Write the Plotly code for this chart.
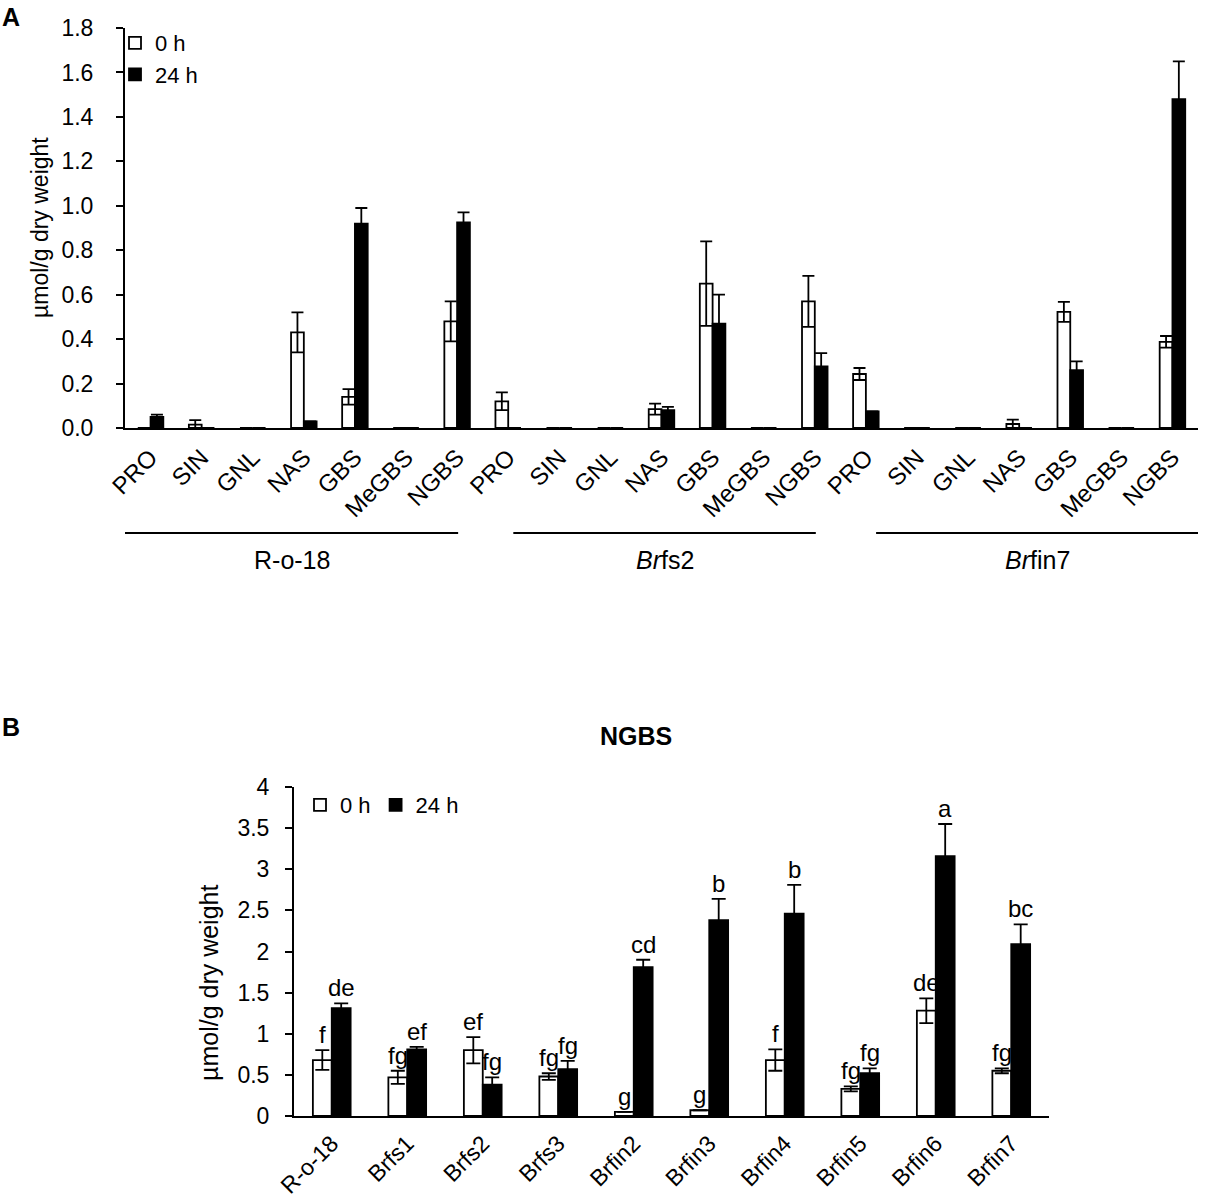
import plotly.graph_objects as go

# ---- panel A data ----
compounds = ["PRO", "SIN", "GNL", "NAS", "GBS", "MeGBS", "NGBS"]
lines_a = ["R-o-18", "<i>Br</i>fs2", "<i>Br</i>fin7"]

a_0h = [0.0, 0.015, 0.0, 0.43, 0.14, 0.0, 0.48,
        0.12, 0.0, 0.0, 0.085, 0.65, 0.0, 0.57,
        0.243, 0.0, 0.0, 0.018, 0.523, 0.0, 0.388]
a_0h_err = [0.0, 0.02, 0.0, 0.09, 0.035, 0.0, 0.09,
            0.04, 0.0, 0.0, 0.025, 0.19, 0.0, 0.115,
            0.027, 0.0, 0.0, 0.02, 0.045, 0.0, 0.026]
a_24h = [0.05, 0.0, 0.0, 0.03, 0.92, 0.0, 0.925,
         0.0, 0.0, 0.0, 0.08, 0.47, 0.0, 0.277,
         0.075, 0.0, 0.0, 0.0, 0.26, 0.0, 1.48]
a_24h_err = [0.01, 0.0, 0.0, 0.0, 0.07, 0.0, 0.045,
             0.0, 0.0, 0.0, 0.015, 0.13, 0.0, 0.06,
             0.0, 0.0, 0.0, 0.0, 0.04, 0.0, 0.17]

# ---- panel B data (NGBS) ----
lines_b = ["R-o-18", "Brfs1", "Brfs2", "Brfs3", "Brfin2", "Brfin3",
           "Brfin4", "Brfin5", "Brfin6", "Brfin7"]
b_0h = [0.68, 0.47, 0.80, 0.48, 0.05, 0.07, 0.68, 0.33, 1.28, 0.55]
b_0h_err = [0.12, 0.08, 0.16, 0.04, 0.0, 0.0, 0.13, 0.03, 0.15, 0.03]
b_24h = [1.31, 0.81, 0.38, 0.57, 1.81, 2.38, 2.46, 0.52, 3.16, 2.09]
b_24h_err = [0.06, 0.03, 0.09, 0.10, 0.09, 0.26, 0.35, 0.06, 0.39, 0.24]
b_0h_letters = ["f", "fg", "ef", "fg", "g", "g", "f", "fg", "de", "fg"]
b_24h_letters = ["de", "ef", "fg", "fg", "cd", "b", "b", "fg", "a", "bc"]

FONT = "Liberation Sans, Arial, sans-serif"
W, H = 1207, 1202


def px(x):
    return x / W


def py(y):
    # pixel row from top -> paper fraction
    return 1 - y / H


def nz(errs):
    # no whisker where there is no error
    return [e if e > 0 else None for e in errs]


xa = list(range(len(a_0h)))
xa_labels = compounds * len(lines_a)
xb = list(range(len(lines_b)))

bw = 0.25
err_style = dict(type="data", symmetric=True, color="black", thickness=1.8)

fig = go.Figure()

fig.add_trace(go.Bar(
    x=xa, y=a_0h, width=bw, offset=-bw, name="0 h",
    marker=dict(color="white", line=dict(color="black", width=1.8)),
    error_y=dict(array=nz(a_0h_err), width=6, **err_style),
    xaxis="x", yaxis="y", legend="legend"))
fig.add_trace(go.Bar(
    x=xa, y=a_24h, width=bw, offset=0, name="24 h",
    marker=dict(color="black", line=dict(color="black", width=1.8)),
    error_y=dict(array=nz(a_24h_err), width=6, **err_style),
    xaxis="x", yaxis="y", legend="legend"))

fig.add_trace(go.Bar(
    x=xb, y=b_0h, width=bw, offset=-bw, name="0 h",
    marker=dict(color="white", line=dict(color="black", width=1.8)),
    error_y=dict(array=nz(b_0h_err), width=7, **err_style),
    xaxis="x2", yaxis="y2", legend="legend2"))
fig.add_trace(go.Bar(
    x=xb, y=b_24h, width=bw, offset=0, name="24 h",
    marker=dict(color="black", line=dict(color="black", width=1.8)),
    error_y=dict(array=nz(b_24h_err), width=7, **err_style),
    xaxis="x2", yaxis="y2", legend="legend2"))

annotations = []
shapes = []

# significance letters
for i in xb:
    annotations.append(dict(x=i - bw / 2, y=b_0h[i] + b_0h_err[i], text=b_0h_letters[i],
                            xref="x2", yref="y2", showarrow=False, xanchor="center",
                            yanchor="bottom", font=dict(size=24)))
    annotations.append(dict(x=i + bw / 2, y=b_24h[i] + b_24h_err[i], text=b_24h_letters[i],
                            xref="x2", yref="y2", showarrow=False, xanchor="center",
                            yanchor="bottom", font=dict(size=24)))

# group lines and labels under panel A
n = len(compounds)
for g, name in enumerate(lines_a):
    x0 = g * n - 0.5 + (0.6 if g else 0.0) + (0.1 if g == 2 else 0.0)
    x1 = (g + 1) * n - 0.5 - (0.0 if g == 2 else 0.48)
    shapes.append(dict(type="line", xref="x", yref="paper", x0=x0, x1=x1,
                       y0=py(533), y1=py(533), line=dict(color="black", width=2)))
    annotations.append(dict(x=(x0 + x1) / 2, y=py(560), xref="x", yref="paper",
                            text=name, showarrow=False, xanchor="center",
                            yanchor="middle", font=dict(size=25)))

# panel letters, titles, axis titles
annotations += [
    dict(x=0, y=py(17), xref="paper", yref="paper", text="<b>A</b>",
         showarrow=False, xanchor="left", yanchor="middle", font=dict(size=25)),
    dict(x=0, y=py(727), xref="paper", yref="paper", text="<b>B</b>",
         showarrow=False, xanchor="left", yanchor="middle", font=dict(size=25)),
    dict(x=px(636), y=py(736), xref="paper", yref="paper", text="<b>NGBS</b>",
         showarrow=False, xanchor="center", yanchor="middle", font=dict(size=25)),
    dict(x=px(40), y=py(228), xref="paper", yref="paper", text="µmol/g dry weight",
         textangle=-90, showarrow=False, xanchor="center", yanchor="middle",
         font=dict(size=23)),
    dict(x=px(209), y=py(983), xref="paper", yref="paper", text="µmol/g dry weight",
         textangle=-90, showarrow=False, xanchor="center", yanchor="middle",
         font=dict(size=25)),
]

axis_common = dict(showgrid=False, zeroline=False, showline=True, linecolor="black",
                   linewidth=2, automargin=False)

fig.update_layout(
    width=W, height=H,
    margin=dict(l=0, r=0, t=0, b=0, autoexpand=False),
    paper_bgcolor="white", plot_bgcolor="white",
    font=dict(family=FONT, color="black"),
    barmode="overlay",
    showlegend=True,
    xaxis=dict(domain=[px(125), px(1198)], range=[-0.5, len(xa) - 0.5],
               tickvals=xa, ticktext=xa_labels, tickangle=-45, ticks="",
               ticklabelstandoff=4,
               tickfont=dict(size=24, color="black"), anchor="y", **axis_common),
    yaxis=dict(domain=[py(428), py(28)], range=[0, 1.8], dtick=0.2,
               tickformat=".1f", ticks="outside", ticklen=7, tickwidth=2,
               tickcolor="black", ticklabelstandoff=18,
               tickfont=dict(size=23, color="black"), anchor="x", **axis_common),
    xaxis2=dict(domain=[px(294), px(1049)], range=[-0.5, len(xb) - 0.5],
                tickvals=xb, ticktext=lines_b, tickangle=-45, ticks="",
                ticklabelstandoff=3,
                tickfont=dict(size=23, color="black"), anchor="y2", **axis_common),
    yaxis2=dict(domain=[py(1116), py(787)], range=[0, 4], dtick=0.5,
                ticks="outside", ticklen=7, tickwidth=2, tickcolor="black",
                ticklabelstandoff=11,
                tickfont=dict(size=23, color="black"), anchor="x2", **axis_common),
    legend=dict(x=px(115), y=py(22), xanchor="left", yanchor="top",
                bgcolor="rgba(0,0,0,0)", font=dict(size=22), tracegroupgap=0,
                itemwidth=30, traceorder="normal"),
    legend2=dict(x=px(300), y=py(784), xanchor="left", yanchor="top",
                 orientation="h", bgcolor="rgba(0,0,0,0)", font=dict(size=22),
                 itemwidth=30, traceorder="normal"),
    annotations=annotations,
    shapes=shapes,
)

fig.write_html("out.html", config={"displayModeBar": False},
               post_script="document.body.style.margin = '0';")
